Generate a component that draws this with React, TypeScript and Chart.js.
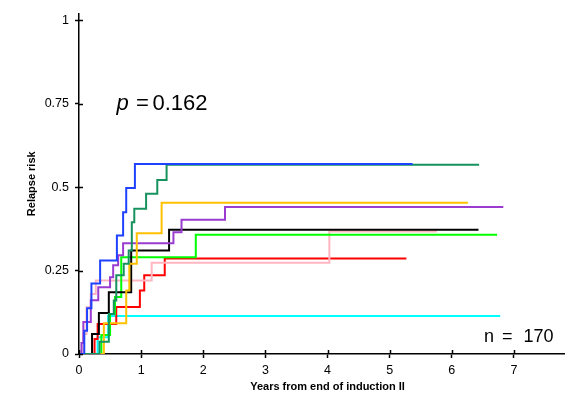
import React, { useEffect, useRef } from "react";
import { Chart, registerables } from "chart.js";

Chart.register(...registerables);

// Cumulative relapse incidence, one step curve per group.
// Each curve: event times (years) and the risk reached at that time, plus the last follow-up time.
const blueTimes = [0.085, 0.13, 0.2, 0.34, 0.61, 0.71, 0.76, 0.9];
const blueRisk = [0.07, 0.137, 0.211, 0.28, 0.355, 0.425, 0.497, 0.569];
const blueEnd = 5.37;

const teal_Times = [0.33, 0.48, 0.56, 0.6, 0.72, 0.8, 0.85, 0.89, 1.08, 1.26, 1.41];
const teal_Risk = [0.037, 0.12, 0.16, 0.236, 0.27, 0.31, 0.395, 0.435, 0.48, 0.521, 0.567];
const teal_End = 6.44;

const amberTimes = [0.4, 0.76, 0.81, 0.93, 1.33];
const amberRisk = [0.092, 0.19, 0.27, 0.362, 0.453];
const amberEnd = 6.26;

const violetTimes = [0.04, 0.07, 0.19, 0.31, 0.5, 0.55, 0.63, 0.71, 1.52, 1.65, 2.35];
const violetRisk = [0.033, 0.096, 0.161, 0.2, 0.23, 0.266, 0.296, 0.332, 0.365, 0.402, 0.44];
const violetEnd = 6.83;

const blackTimes = [0.21, 0.32, 0.48, 0.84, 1.45];
const blackRisk = [0.06, 0.123, 0.185, 0.31, 0.372];
const blackEnd = 6.43;

const limeTimes = [0.36, 0.5, 0.58, 0.68, 1.88];
const limeRisk = [0.057, 0.12, 0.171, 0.29, 0.357];
const limeEnd = 6.73;

const pinkTimes = [0.07, 0.12, 0.19, 0.27, 1.17, 4.03];
const pinkRisk = [0.06, 0.14, 0.18, 0.22, 0.273, 0.367];
const pinkEnd = 5.76;

const redTimes = [0.25, 0.3, 0.6, 0.98, 1.05, 1.38];
const redRisk = [0.045, 0.09, 0.141, 0.19, 0.236, 0.286];
const redEnd = 5.27;

const cyanTimes = [0.3, 0.47];
const cyanRisk = [0.05, 0.114];
const cyanEnd = 6.78;

const xTicks = [0, 1, 2, 3, 4, 5, 6, 7];
const yTicks = [0, 0.25, 0.5, 0.75, 1];

const pValueText = "0.162";
const nText = "170";

const FONT = "'Liberation Sans', Arial, sans-serif";

function stepPoints(times: number[], risk: number[], end: number) {
  const pts = [{ x: 0, y: 0 }];
  times.forEach((t, i) => pts.push({ x: t, y: risk[i] }));
  pts.push({ x: end, y: risk[risk.length - 1] });
  return pts;
}

// Ticks in the reference style cross the axis line: draw the inner half here.
const innerTicks = {
  id: "innerTicks",
  afterDraw(chart: any) {
    const { ctx, chartArea, scales } = chart;
    ctx.save();
    ctx.strokeStyle = "#000";
    ctx.lineWidth = 1.5;
    ctx.beginPath();
    xTicks.forEach((v) => {
      const px = Math.round(scales.x.getPixelForValue(v)) + 0.5;
      ctx.moveTo(px, chartArea.bottom);
      ctx.lineTo(px, chartArea.bottom - 4);
    });
    yTicks.forEach((v) => {
      const py = Math.round(scales.y.getPixelForValue(v)) + 0.5;
      ctx.moveTo(chartArea.left, py);
      ctx.lineTo(chartArea.left + 4, py);
    });
    ctx.stroke();

    // annotations
    ctx.fillStyle = "#000";
    ctx.textBaseline = "alphabetic";
    ctx.textAlign = "left";
    ctx.font = `italic 22px ${FONT}`;
    ctx.fillText("p", 116.5, 110);
    ctx.font = `22px ${FONT}`;
    ctx.fillText("=", 136, 110);
    ctx.fillText(pValueText, 152.5, 110);

    ctx.font = `18px ${FONT}`;
    ctx.fillText("n", 484, 341.5);
    ctx.fillText("=", 502, 341.5);
    ctx.fillText(nText, 523.5, 341.5);
    ctx.restore();
  },
};

export default function App() {
  const ref = useRef<HTMLCanvasElement | null>(null);

  useEffect(() => {
    if (!ref.current) return;
    const series = [
      { pts: stepPoints(blueTimes, blueRisk, blueEnd), color: "#1E42FF" },
      { pts: stepPoints(teal_Times, teal_Risk, teal_End), color: "#16925E" },
      { pts: stepPoints(amberTimes, amberRisk, amberEnd), color: "#FFC000" },
      { pts: stepPoints(violetTimes, violetRisk, violetEnd), color: "#9B3BD0" },
      { pts: stepPoints(blackTimes, blackRisk, blackEnd), color: "#000000" },
      { pts: stepPoints(limeTimes, limeRisk, limeEnd), color: "#00FF00" },
      { pts: stepPoints(pinkTimes, pinkRisk, pinkEnd), color: "#FFB6C1" },
      { pts: stepPoints(redTimes, redRisk, redEnd), color: "#FF0000" },
      { pts: stepPoints(cyanTimes, cyanRisk, cyanEnd), color: "#00FFFF" },
    ];

    const chart = new Chart(ref.current, {
      type: "line",
      data: {
        datasets: series.map((s) => ({
          data: s.pts,
          borderColor: s.color,
          borderWidth: 2,
          pointRadius: 0,
          stepped: "before" as const,
          fill: false,
          tension: 0,
        })),
      },
      options: {
        responsive: false,
        animation: false,
        devicePixelRatio: 1,
        layout: { padding: { top: 13, right: 2, left: 0, bottom: 0 } },
        plugins: { legend: { display: false }, tooltip: { enabled: false } },
        scales: {
          x: {
            type: "linear",
            min: 0,
            max: 8,
            afterBuildTicks: (s: any) => {
              s.ticks = xTicks.map((v) => ({ value: v }));
            },
            afterFit: (s: any) => {
              s.height = 42;
            },
            grid: {
              display: true,
              drawOnChartArea: false,
              drawTicks: true,
              tickLength: 4,
              tickColor: "#000",
              tickWidth: 1.5,
            },
            border: { display: true, color: "#000", width: 1.5 },
            ticks: {
              color: "#000",
              font: { family: FONT, size: 12.5 },
              padding: 5,
              maxRotation: 0,
              autoSkip: false,
              callback: (v: any) => String(v),
            },
            title: {
              display: true,
              text: "Years from end of induction II",
              color: "#000",
              font: { family: FONT, size: 11, weight: "bold" },
              padding: { top: 0, bottom: 2 },
            },
          },
          y: {
            type: "linear",
            min: 0,
            max: 1.02,
            afterBuildTicks: (s: any) => {
              s.ticks = yTicks.map((v) => ({ value: v }));
            },
            afterFit: (s: any) => {
              s.width = 79;
            },
            grid: {
              display: true,
              drawOnChartArea: false,
              drawTicks: true,
              tickLength: 4,
              tickColor: "#000",
              tickWidth: 1.5,
            },
            border: { display: true, color: "#000", width: 1.5 },
            ticks: {
              color: "#000",
              font: { family: FONT, size: 12.5 },
              padding: 6,
              autoSkip: false,
              callback: (v: any) => String(v),
            },
            title: {
              display: true,
              text: "Relapse risk",
              color: "#000",
              font: { family: FONT, size: 11, weight: "bold" },
              padding: { top: 25, bottom: 0 },
            },
          },
        },
      },
      plugins: [innerTicks],
    });
    return () => chart.destroy();
  }, []);

  return (
    <div
      style={{
        position: "absolute",
        left: 0,
        top: 0,
        width: 565,
        height: 396,
        overflow: "hidden",
        background: "#fff",
      }}
    >
      <canvas ref={ref} width={578} height={396} style={{ display: "block" }} />
    </div>
  );
}
